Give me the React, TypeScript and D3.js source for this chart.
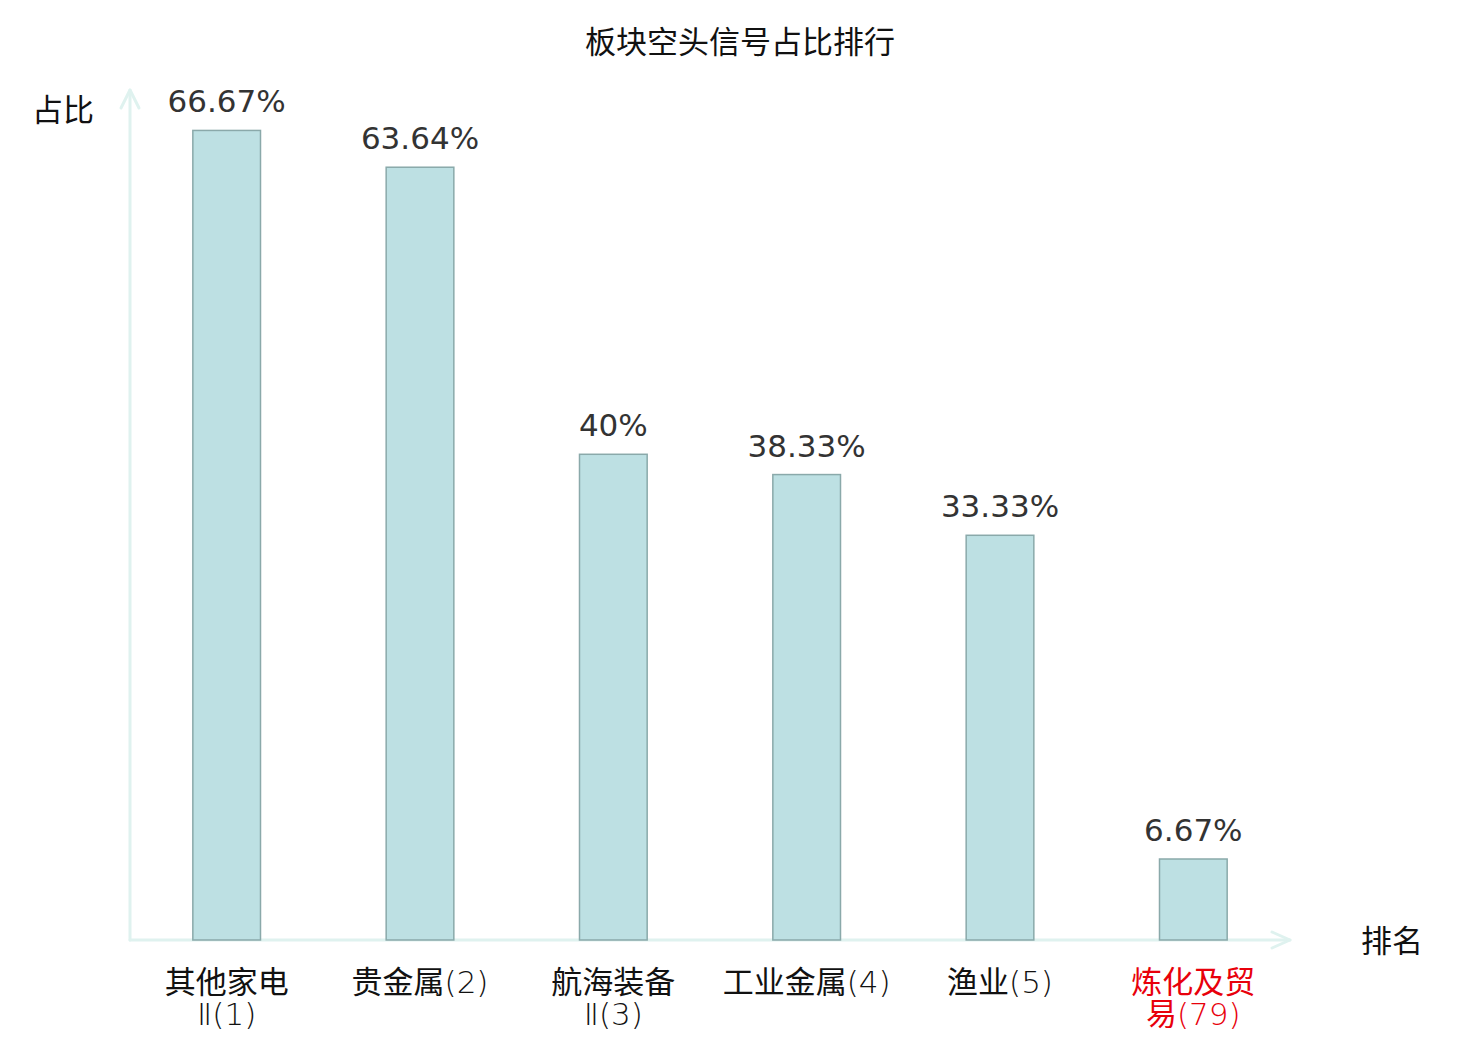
import { useEffect, useRef } from 'react'
import * as d3 from 'd3'

const categories = ['其他家电Ⅱ(1)', '贵金属(2)', '航海装备Ⅱ(3)', '工业金属(4)', '渔业(5)', '炼化及贸易(79)']
const values = [66.67, 63.64, 40, 38.33, 33.33, 6.67]
const valueLabels = ['66.67%', '63.64%', '40%', '38.33%', '33.33%', '6.67%']
const highlight = ['炼化及贸易(79)']

const TITLE = '板块空头信号占比排行'
const Y_NAME = '占比'
const X_NAME = '排名'

const CJK = '"Noto Sans CJK SC", "Noto Sans", sans-serif'
const LATIN = '"DejaVu Sans", sans-serif'
const AXIS_COLOR = '#dff2ef'
const FS = 31

// long labels break after the 4th character
function wrap(text: string): string[] {
  const chars = Array.from(text)
  if (chars.length <= 7) return [text]
  return [chars.slice(0, 4).join(''), chars.slice(4).join('')]
}

const isCJK = (ch: string) => /[\u4e00-\u9fff]/.test(ch)

export default function App() {
  const ref = useRef<SVGSVGElement>(null)

  useEffect(() => {
    const svg = d3.select(ref.current!)
    svg.selectAll('*').remove()
    const W = 1480, H = 1040
    const x0 = 122, x1 = 1282, yBase = 932, yTop = 82
    svg.attr('width', W).attr('height', H)

    const xScale = d3.scaleBand<string>().domain(categories).range([x0, x1]).paddingInner(0.65).paddingOuter(0.325)
    const yScale = d3.scaleLinear().domain([0, 70]).range([yBase, yTop])

    svg.append('text').attr('x', 732).attr('y', 45).attr('text-anchor', 'middle')
      .attr('font-family', CJK).attr('font-size', FS).attr('fill', '#111').text(TITLE)

    // axes
    const ax = svg.append('g').attr('stroke', AXIS_COLOR).attr('stroke-width', 3).attr('fill', 'none')
      .attr('stroke-linecap', 'round').attr('stroke-linejoin', 'round')
    ax.append('line').attr('x1', x0).attr('y1', yBase).attr('x2', x0).attr('y2', yTop)
    ax.append('path').attr('d', `M${x0 - 9},${yTop + 18}L${x0},${yTop}L${x0 + 9},${yTop + 18}`)
    ax.append('line').attr('x1', x0).attr('y1', yBase).attr('x2', x1).attr('y2', yBase)
    ax.append('path').attr('d', `M${x1 - 18},${yBase - 8}L${x1},${yBase}L${x1 - 18},${yBase + 8}`)

    svg.append('text').attr('x', 55).attr('y', 113).attr('text-anchor', 'middle')
      .attr('font-family', CJK).attr('font-size', FS).attr('fill', '#111').text(Y_NAME)
    svg.append('text').attr('x', 1384).attr('y', 944).attr('text-anchor', 'middle')
      .attr('font-family', CJK).attr('font-size', FS).attr('fill', '#111').text(X_NAME)

    const bars = svg.append('g')
    categories.forEach((c, i) => {
      const bx = xScale(c)!
      const cx = bx + xScale.bandwidth() / 2
      bars.append('rect').attr('x', bx).attr('y', yScale(values[i]))
        .attr('width', xScale.bandwidth()).attr('height', yBase - yScale(values[i]))
        .attr('fill', '#bde0e3').attr('stroke', '#8aa9aa').attr('stroke-width', 1.5)
      bars.append('text').attr('x', cx).attr('y', yScale(values[i]) - 18)
        .attr('text-anchor', 'middle').attr('font-family', LATIN)
        .attr('font-size', FS).attr('fill', '#333').text(valueLabels[i])

      const t = bars.append('text').attr('text-anchor', 'middle').attr('font-family', CJK)
        .attr('font-size', FS).attr('fill', highlight.includes(c) ? '#e8000b' : '#111')
      wrap(c).forEach((l, j) => {
        const line = t.append('tspan').attr('x', cx).attr('y', 985 + j * 32)
        // latin runs are drawn in a light weight, as in the reference
        const runs: { s: string; cjk: boolean }[] = []
        Array.from(l).forEach(ch => {
          const k = isCJK(ch)
          if (runs.length && runs[runs.length - 1].cjk === k) runs[runs.length - 1].s += ch
          else runs.push({ s: ch, cjk: k })
        })
        runs.forEach(r => {
          line.append('tspan').attr('font-weight', r.cjk ? 400 : 200)
            .attr('font-family', r.cjk ? CJK : LATIN)
            .text(r.s)
        })
      })
    })
  }, [])

  return <svg ref={ref} style={{ display: 'block' }} />
}
